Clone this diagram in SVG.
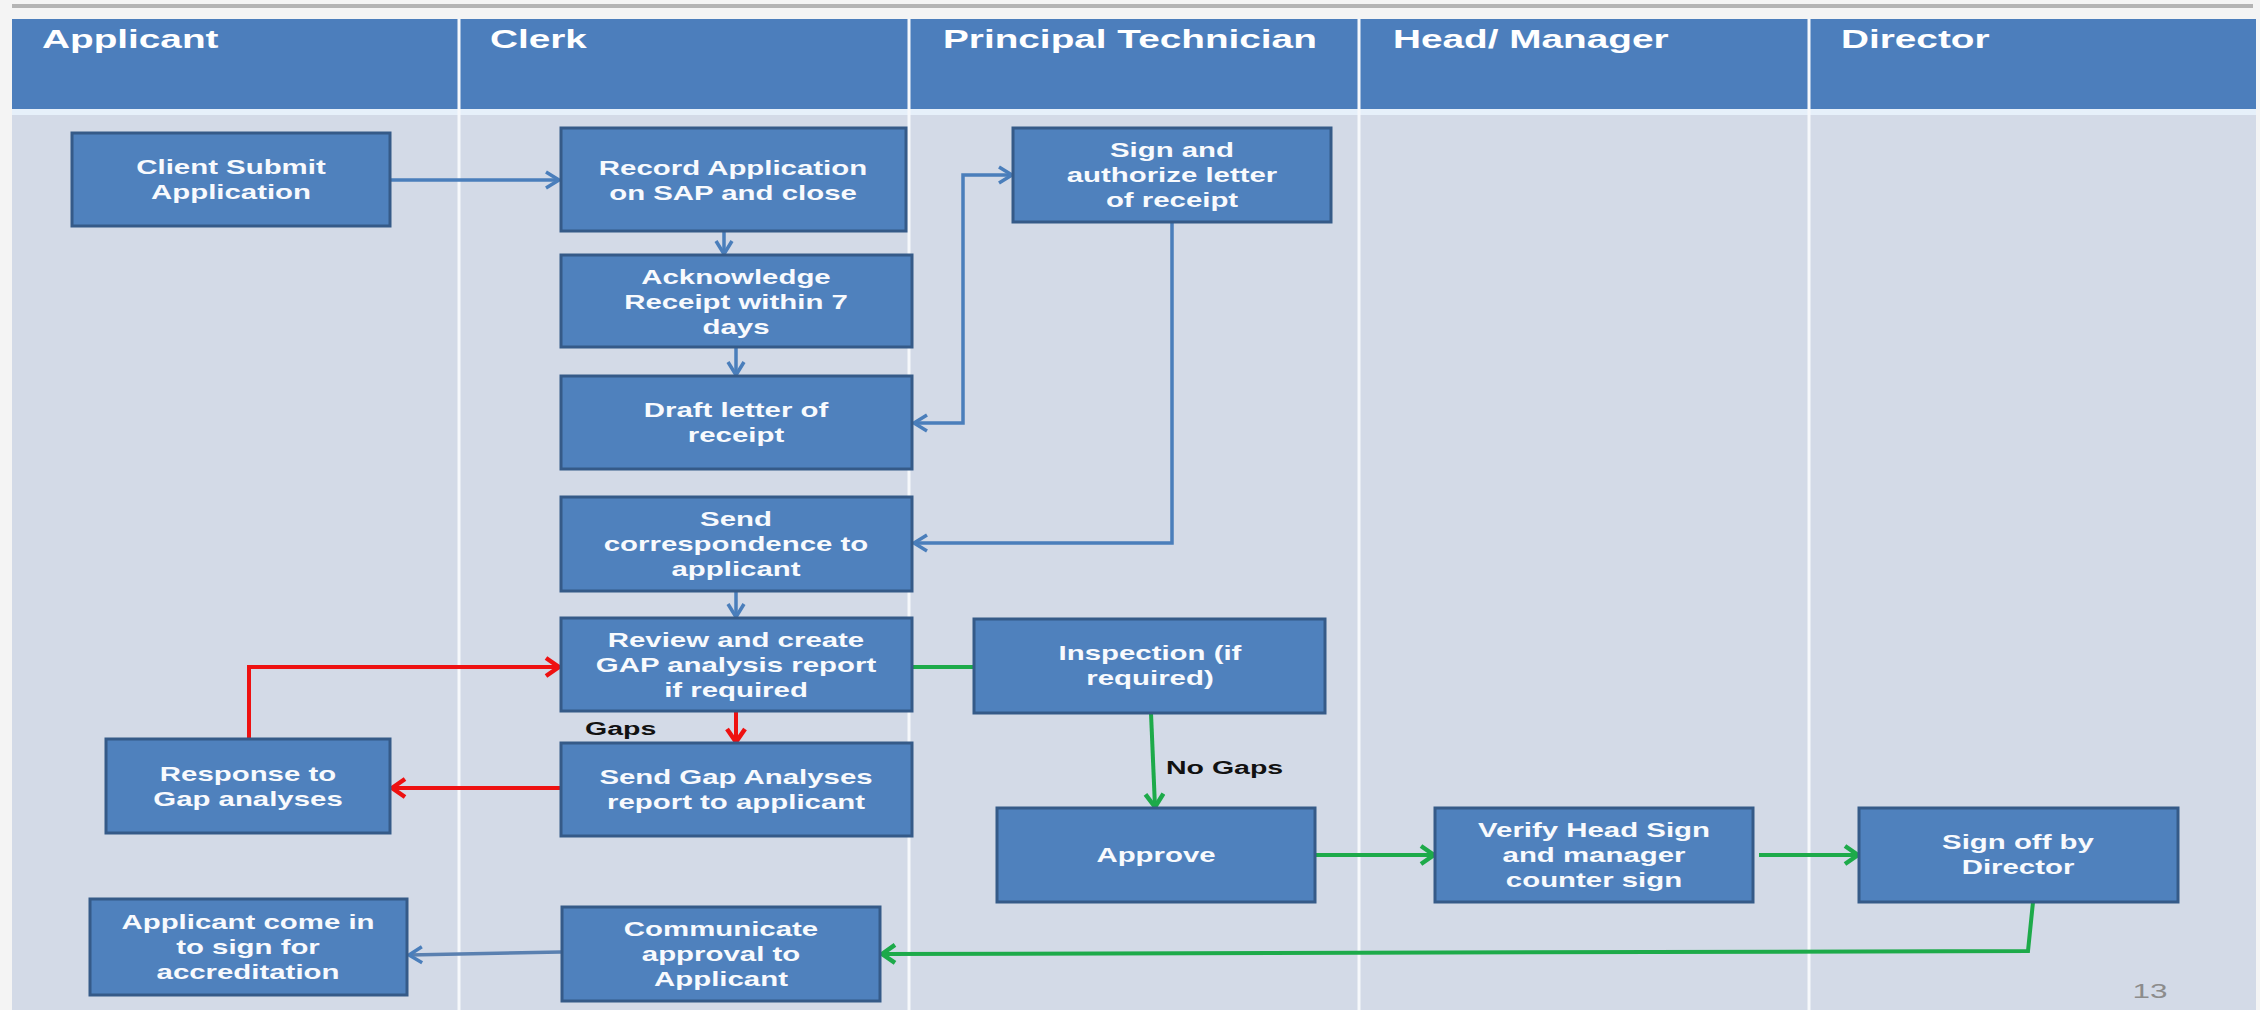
<svg xmlns="http://www.w3.org/2000/svg" width="2260" height="1010" viewBox="0 0 2260 1010">
<style>
.hd{font-family:"Liberation Sans",Arial,sans-serif;font-size:25px;font-weight:bold;fill:#ffffff}
.t{font-family:"Liberation Sans",Arial,sans-serif;font-size:21px;font-weight:bold;fill:#f8fafd;text-anchor:middle}
.box{fill:#4f81bd;stroke:#355a88;stroke-width:3}
.lbl{font-family:"Liberation Sans",Arial,sans-serif;font-size:19px;font-weight:bold;fill:#111111}
.pg{font-family:"Liberation Sans",Arial,sans-serif;font-size:21px;fill:#8c8c8c;text-anchor:middle}
.cb{fill:none;stroke:#4a7ebb;stroke-width:3.5}
.cr{fill:none;stroke:#ee1111;stroke-width:4}
.cg{fill:none;stroke:#1daa4a;stroke-width:4}
.lane{stroke:#f6f8fb;stroke-width:3}
</style>
<defs>
<marker id="ab" viewBox="0 0 18 20" refX="15" refY="10" markerWidth="18" markerHeight="20" markerUnits="userSpaceOnUse" orient="auto-start-reverse">
<path d="M2,2 L15,10 L2,18" fill="none" stroke="#4a7ebb" stroke-width="3.5" stroke-linejoin="round"/>
</marker>
<marker id="ar" viewBox="0 0 18 22" refX="15" refY="11" markerWidth="18" markerHeight="22" markerUnits="userSpaceOnUse" orient="auto">
<path d="M2,2 L15,11 L2,20" fill="none" stroke="#ee1111" stroke-width="4.5" stroke-linejoin="round"/>
</marker>
<marker id="ag" viewBox="0 0 18 22" refX="15" refY="11" markerWidth="18" markerHeight="22" markerUnits="userSpaceOnUse" orient="auto">
<path d="M2,2 L15,11 L2,20" fill="none" stroke="#1daa4a" stroke-width="4.5" stroke-linejoin="round"/>
</marker>
</defs>

<rect x="0" y="0" width="2260" height="1010" fill="#f4f4f4"/>
<rect x="12" y="4" width="2241" height="4" fill="#b4b4b4"/>
<g id="lanes">
<rect x="12" y="19" width="2244" height="91" fill="#4c7ebc"/>
<rect x="12" y="109" width="2244" height="6" fill="#e6f0fa"/>
<rect x="12" y="115" width="2244" height="895" fill="#d3dae7"/>
<line class="lane" x1="459" y1="19" x2="459" y2="1010"/>
<line class="lane" x1="909" y1="19" x2="909" y2="1010"/>
<line class="lane" x1="1359" y1="19" x2="1359" y2="1010"/>
<line class="lane" x1="1809" y1="19" x2="1809" y2="1010"/>
<text class="hd" transform="translate(42,48) scale(1.55,1)">Applicant</text>
<text class="hd" transform="translate(490,48) scale(1.55,1)">Clerk</text>
<text class="hd" transform="translate(943,48) scale(1.55,1)">Principal Technician</text>
<text class="hd" transform="translate(1393,48) scale(1.55,1)">Head/ Manager</text>
<text class="hd" transform="translate(1841,48) scale(1.55,1)">Director</text>
</g>

<g id="connectors">
<path class="cb" d="M391,180 L559,180" marker-end="url(#ab)"/>
<path class="cb" d="M724,232 L724,254" marker-end="url(#ab)"/>
<path class="cb" d="M736,348 L736,375" marker-end="url(#ab)"/>
<path class="cb" d="M736,592 L736,617" marker-end="url(#ab)"/>
<path class="cb" d="M1012,175 L963,175 L963,423 L914,423" marker-start="url(#ab)" marker-end="url(#ab)"/>
<path class="cb" d="M1172,222 L1172,543 L914,543" marker-end="url(#ab)"/>
<path class="cb" d="M561,952 L409,955" style="stroke:#5a80b0" marker-end="url(#ab)"/>
<path class="cr" d="M736,711 L736,742" marker-end="url(#ar)"/>
<path class="cr" d="M561,788 L392,788" marker-end="url(#ar)"/>
<path class="cr" d="M249,739 L249,667 L559,667" marker-end="url(#ar)"/>
<path class="cg" d="M913,667 L974,667"/>
<path class="cg" d="M1151,713 L1155,807" marker-end="url(#ag)"/>
<path class="cg" d="M1315,855 L1434,855" marker-end="url(#ag)"/>
<path class="cg" d="M1759,855 L1858,855" marker-end="url(#ag)"/>
<path class="cg" d="M2033,902 L2028,951 L882,954" marker-end="url(#ag)"/>
<text class="lbl" transform="translate(585,735) scale(1.5,1)">Gaps</text>
<text class="lbl" transform="translate(1166,774) scale(1.5,1)">No Gaps</text>
</g>

<g id="n-client">
<rect class="box" x="72" y="133" width="318" height="93"/>
<text class="t" transform="translate(231,0) scale(1.4,1)"><tspan x="0" y="174">Client Submit</tspan><tspan x="0" y="199">Application</tspan></text>
</g>
<g id="n-record">
<rect class="box" x="561" y="128" width="345" height="103"/>
<text class="t" transform="translate(733,0) scale(1.4,1)"><tspan x="0" y="175">Record Application</tspan><tspan x="0" y="200">on SAP and close</tspan></text>
</g>
<g id="n-ack">
<rect class="box" x="561" y="255" width="351" height="92"/>
<text class="t" transform="translate(736,0) scale(1.4,1)"><tspan x="0" y="284">Acknowledge</tspan><tspan x="0" y="309">Receipt within 7</tspan><tspan x="0" y="334">days</tspan></text>
</g>
<g id="n-draft">
<rect class="box" x="561" y="376" width="351" height="93"/>
<text class="t" transform="translate(736,0) scale(1.4,1)"><tspan x="0" y="417">Draft letter of</tspan><tspan x="0" y="442">receipt</tspan></text>
</g>
<g id="n-sendcorr">
<rect class="box" x="561" y="497" width="351" height="94"/>
<text class="t" transform="translate(736,0) scale(1.4,1)"><tspan x="0" y="526">Send</tspan><tspan x="0" y="551">correspondence to</tspan><tspan x="0" y="576">applicant</tspan></text>
</g>
<g id="n-review">
<rect class="box" x="561" y="618" width="351" height="93"/>
<text class="t" transform="translate(736,0) scale(1.4,1)"><tspan x="0" y="647">Review and create</tspan><tspan x="0" y="672">GAP analysis report</tspan><tspan x="0" y="697">if required</tspan></text>
</g>
<g id="n-sendgap">
<rect class="box" x="561" y="743" width="351" height="93"/>
<text class="t" transform="translate(736,0) scale(1.4,1)"><tspan x="0" y="784">Send Gap Analyses</tspan><tspan x="0" y="809">report to applicant</tspan></text>
</g>
<g id="n-response">
<rect class="box" x="106" y="739" width="284" height="94"/>
<text class="t" transform="translate(248,0) scale(1.4,1)"><tspan x="0" y="781">Response to</tspan><tspan x="0" y="806">Gap analyses</tspan></text>
</g>
<g id="n-applicant-sign">
<rect class="box" x="90" y="899" width="317" height="96"/>
<text class="t" transform="translate(248,0) scale(1.4,1)"><tspan x="0" y="929">Applicant come in</tspan><tspan x="0" y="954">to sign for</tspan><tspan x="0" y="979">accreditation</tspan></text>
</g>
<g id="n-communicate">
<rect class="box" x="562" y="907" width="318" height="94"/>
<text class="t" transform="translate(721,0) scale(1.4,1)"><tspan x="0" y="936">Communicate</tspan><tspan x="0" y="961">approval to</tspan><tspan x="0" y="986">Applicant</tspan></text>
</g>
<g id="n-signauth">
<rect class="box" x="1013" y="128" width="318" height="94"/>
<text class="t" transform="translate(1172,0) scale(1.4,1)"><tspan x="0" y="157">Sign and</tspan><tspan x="0" y="182">authorize letter</tspan><tspan x="0" y="207">of receipt</tspan></text>
</g>
<g id="n-inspection">
<rect class="box" x="974" y="619" width="351" height="94"/>
<text class="t" transform="translate(1150,0) scale(1.4,1)"><tspan x="0" y="660">Inspection (if</tspan><tspan x="0" y="685">required)</tspan></text>
</g>
<g id="n-approve">
<rect class="box" x="997" y="808" width="318" height="94"/>
<text class="t" transform="translate(1156,0) scale(1.4,1)"><tspan x="0" y="862">Approve</tspan></text>
</g>
<g id="n-verify">
<rect class="box" x="1435" y="808" width="318" height="94"/>
<text class="t" transform="translate(1594,0) scale(1.4,1)"><tspan x="0" y="837">Verify Head Sign</tspan><tspan x="0" y="862">and manager</tspan><tspan x="0" y="887">counter sign</tspan></text>
</g>
<g id="n-signoff">
<rect class="box" x="1859" y="808" width="319" height="94"/>
<text class="t" transform="translate(2018,0) scale(1.4,1)"><tspan x="0" y="849">Sign off by</tspan><tspan x="0" y="874">Director</tspan></text>
</g>
<text class="pg" transform="translate(2150,998) scale(1.5,1)">13</text>
</svg>
